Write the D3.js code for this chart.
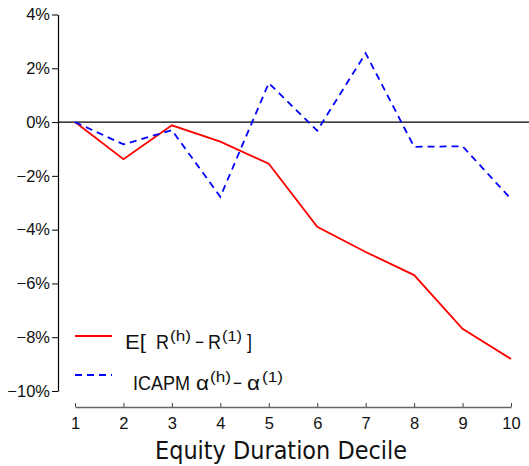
<!DOCTYPE html>
<html><head><meta charset="utf-8">
<script src="https://cdn.jsdelivr.net/npm/d3@7"></script>
<style>body{margin:0;background:#fff;} svg{display:block;font-family:"Liberation Sans",Arial,sans-serif;}</style>
</head><body>
<svg id="c" width="529" height="466"></svg>
<script>
const deciles = [1,2,3,4,5,6,7,8,9,10];
const expRet = [0, -1.38, -0.12, -0.73, -1.55, -3.89, -4.83, -5.69, -7.69, -8.81];
const icapmAlpha = [0, -0.83, -0.3, -2.78, 1.45, -0.32, 2.56, -0.92, -0.9, -2.86];
const yTicks = [4, 2, 0, -2, -4, -6, -8, -10];

const svg = d3.select("#c");
const x = d3.scaleLinear().domain([1,10]).range([75, 511]);
const y = d3.scaleLinear().domain([-10, 4]).range([391, 14.5]);

// zero line
svg.append("line").attr("x1",58).attr("x2",529).attr("y1",y(0)).attr("y2",y(0))
  .attr("stroke","#000").attr("stroke-width",1.2);

// y axis
const ya = svg.append("g").attr("transform","translate(58,0)")
  .call(d3.axisLeft(y).tickValues(yTicks).tickSize(6).tickSizeOuter(0)
    .tickFormat(d => (d<0 ? "\u2212" + (-d) : d) + "%"));
ya.select(".domain").attr("stroke","#000").attr("stroke-width",1.2);
ya.selectAll(".tick line").attr("stroke","#000");
ya.selectAll(".tick text").attr("font-size",16.5).attr("fill","#111").attr("x",-8).attr("font-family","Liberation Sans, Arial, sans-serif");

// x axis
const xa = svg.append("g").attr("transform","translate(0,407)")
  .call(d3.axisTop(x).tickValues(deciles).tickSize(4).tickSizeOuter(0).tickFormat(d3.format("d")));
xa.select(".domain").attr("stroke","#666").attr("stroke-width",1.6);
xa.selectAll(".tick line").attr("stroke","#444");
xa.selectAll(".tick text").attr("font-size",16.5).attr("fill","#111").attr("y",22).attr("dy",0)
  .attr("font-family","Liberation Sans, Arial, sans-serif");

svg.append("text").attr("x",155).attr("y",459)
  .attr("font-size",25).attr("fill","#111").attr("font-family","DejaVu Sans, sans-serif")
  .attr("textLength",252).attr("lengthAdjust","spacingAndGlyphs")
  .text("Equity Duration Decile");

const line = d3.line().x((d,i)=>x(deciles[i])).y(d=>y(d));
svg.append("path").datum(expRet).attr("d",line).attr("fill","none")
  .attr("stroke","#ff0000").attr("stroke-width",1.8);
svg.append("path").datum(icapmAlpha).attr("d",line).attr("fill","none")
  .attr("stroke","#0000ff").attr("stroke-width",1.8).attr("stroke-dasharray","7,5");

// legend
svg.append("line").attr("x1",75).attr("x2",112).attr("y1",336).attr("y2",336)
  .attr("stroke","#ff0000").attr("stroke-width",1.8);
svg.append("line").attr("x1",75).attr("x2",112).attr("y1",375).attr("y2",375)
  .attr("stroke","#0000ff").attr("stroke-width",1.8).attr("stroke-dasharray","7,5");

function legendText(yb, parts) {
  parts.forEach(p => {
    svg.append("text").attr("x", p[0]).attr("y", p[3] ? yb - 8 : yb)
      .attr("fill","#111").attr("font-size", p[3] ? 14 : 20)
      .attr("textLength", p[2]).attr("lengthAdjust","spacingAndGlyphs").text(p[1]);
  });
}
legendText(349, [[125,"E[",21],[156,"R",13],[170,"(h)",21,1],[195,"\u2212",9],[208,"R",13],[222,"(1)",20,1],[247,"]",5]]);
legendText(390, [[133,"ICAPM",57],[196,"\u03b1",13],[210,"(h)",21,1],[233,"\u2212",9],[247,"\u03b1",13],[262,"(1)",21,1]]);
</script>
</body></html>
